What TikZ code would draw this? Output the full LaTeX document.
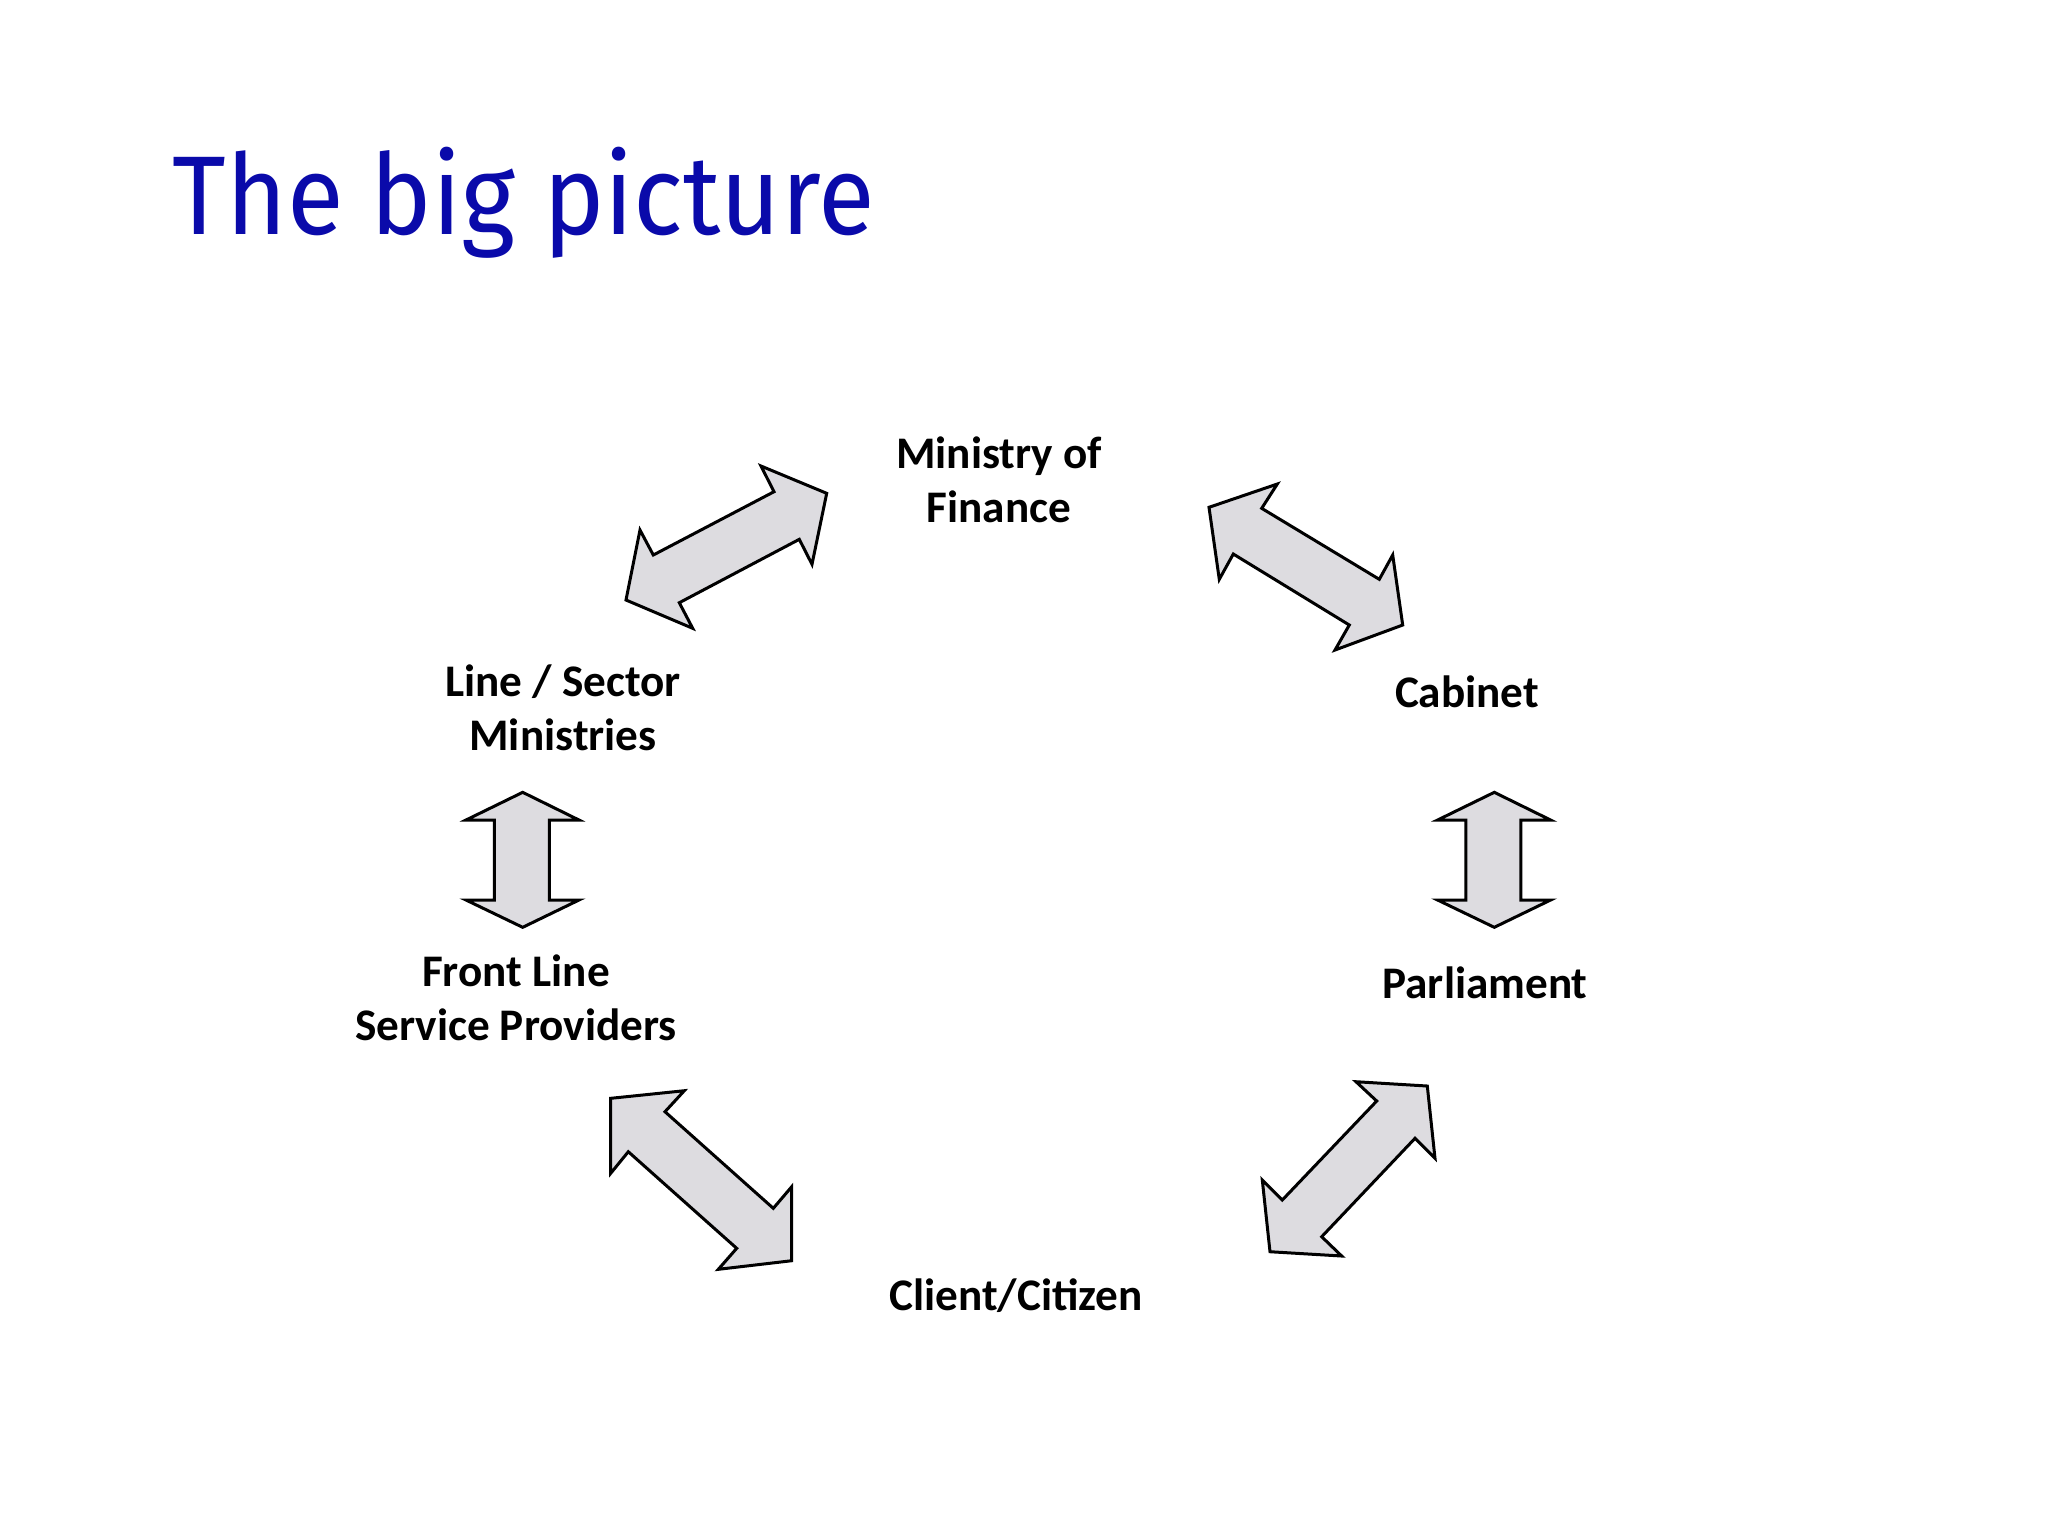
\documentclass[tikz,border=0pt]{standalone}
\usepackage{fontspec}
\setmainfont{Carlito}
\newfontfamily\titlefont{Fira Sans}
\definecolor{titleblue}{RGB}{10,10,170}
\definecolor{arrowgray}{RGB}{221,220,224}
\tikzset{
  lbl/.style={font=\bfseries\fontsize{11.3}{13.3}\selectfont, align=center, inner sep=0pt, anchor=base, text=black},
  blockarrow/.style={draw=black, fill=arrowgray, line width=0.75pt, line join=miter}
}
\begin{document}
\begin{tikzpicture}[x=0.25pt,y=-0.25pt]
\useasboundingbox (0,0) rectangle (2048,1536);
\fill[white] (0,0) rectangle (2048,1536);
% title
\node[font=\titlefont\fontsize{28}{32}\selectfont, text=titleblue, anchor=base west, inner sep=0pt] (title) at (172,234) {\scalebox{0.925}[1]{The big picture}};
% labels (base anchor = baseline of last line)
\node[lbl] (mof) at (999,522) {Ministry of\\Finance};
\node[lbl] (cab) at (1467,707) {Cabinet};
\node[lbl] (par) at (1485,998) {Parliament};
\node[lbl] (cli) at (1016,1310) {Client/Citizen};
\node[lbl] (fls) at (516,1040) {Front Line\\Service Providers};
\node[lbl] (lsm) at (563,750) {Line / Sector\\Ministries};
% arrow: Line/Sector <-> Ministry of Finance
\draw[blockarrow] (826.7,493.3) -- (812,564.3) -- (799.3,539.3) -- (679.3,602.7) -- (692.7,628.3) -- (626,600) -- (640,530) -- (653.3,555) -- (774,491.7) -- (761,466) -- cycle;
% arrow: Ministry of Finance <-> Cabinet
\draw[blockarrow] (1209,507.3) -- (1277.3,484) -- (1261.7,508.3) -- (1379.3,579.3) -- (1392.7,555) -- (1402.7,625) -- (1335,650) -- (1349.3,625) -- (1233.3,554) -- (1219.3,579.3) -- cycle;
% arrow: Line/Sector <-> Front Line (vertical)
\draw[blockarrow] (522.7,792.3) -- (579,820) -- (549.3,820) -- (549.3,900) -- (579,900) -- (522.7,927.3) -- (466,900) -- (494.3,900) -- (494.3,820) -- (466,820) -- cycle;
% arrow: Cabinet <-> Parliament (vertical)
\begin{scope}[xshift=242.9pt]
\draw[blockarrow] (522.7,792.3) -- (579,820) -- (549.3,820) -- (549.3,900) -- (579,900) -- (522.7,927.3) -- (466,900) -- (494.3,900) -- (494.3,820) -- (466,820) -- cycle;
\end{scope}
% arrow: Front Line <-> Client
\draw[blockarrow] (610.7,1098.3) -- (684.3,1090.7) -- (665,1111.7) -- (773.3,1208.3) -- (791.7,1186.7) -- (791.7,1260.7) -- (718.3,1269.3) -- (736.7,1248.3) -- (628.3,1151.7) -- (610.7,1173.3) -- cycle;
% arrow: Client <-> Parliament
\draw[blockarrow] (1427.3,1086) -- (1435,1158.3) -- (1415,1138.3) -- (1321.7,1236.7) -- (1341.7,1256) -- (1270,1251.7) -- (1262.3,1180) -- (1282.3,1200) -- (1376.7,1101) -- (1356,1081.7) -- cycle;
\end{tikzpicture}
\end{document}
